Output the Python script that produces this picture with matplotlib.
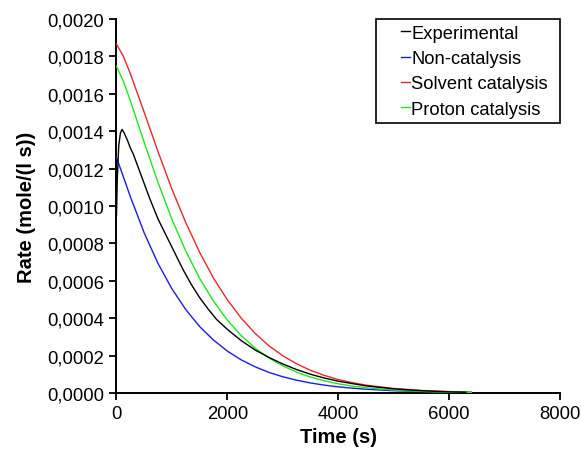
import matplotlib
matplotlib.use("Agg")
import matplotlib.pyplot as plt
from matplotlib.legend_handler import HandlerLine2D
from matplotlib.lines import Line2D
from matplotlib.ticker import FuncFormatter, MultipleLocator

plt.rcParams['font.family'] = ['Liberation Sans', 'DejaVu Sans']

# ---- data ----
t_exp = [0, 15, 40, 70, 100, 140, 200, 250, 300, 400, 500, 600, 750, 900, 1050, 1200,
         1350, 1500, 1650, 1800, 2000, 2250, 2500, 2750, 3000, 3250, 3500, 3750,
         4000, 4500, 5000, 5500, 6000, 6300]
r_exp = [0.00095, 0.00115, 0.00132, 0.00139, 0.00141, 0.00139, 0.00135, 0.00131,
         0.00128, 0.00120, 0.00112, 0.00104, 0.00093, 0.00084, 0.00075, 0.00066,
         0.00058, 0.00051, 0.000450, 0.000395, 0.00034, 0.00028, 0.00023, 0.00019,
         0.000155, 0.000125, 0.000100, 0.000080, 0.000063, 0.000038, 0.000022,
         0.000012, 0.000006, 0.000004]

t_mod = [0, 125, 250, 500, 750, 1000, 1250, 1500, 1750, 2000, 2250, 2500, 2750, 3000,
         3250, 3500, 3750, 4000, 4250, 4500, 5000, 5500, 6000, 6400]
r_non = [0.00126, 0.001155, 0.001050, 0.000856, 0.000692, 0.000557, 0.000446, 0.000355,
         0.000283, 0.000224, 0.000177, 0.000140, 0.000110, 0.0000867, 0.0000682,
         0.0000535, 0.0000419, 0.0000327, 0.0000258, 0.0000199, 0.0000121,
         0.0000073, 0.0000044, 0.0000030]
r_solv = [0.001866, 0.001800, 0.001708, 0.001501, 0.001290, 0.001090, 0.000911, 0.000752,
          0.000614, 0.000498, 0.000400, 0.000319, 0.000252, 0.000199, 0.000156,
          0.000121, 0.0000937, 0.0000720, 0.0000552, 0.0000420, 0.0000241,
          0.0000136, 0.0000075, 0.0000045]
r_prot = [0.001747, 0.001667, 0.001563, 0.001340, 0.001125, 0.000929, 0.000759, 0.000613,
          0.000491, 0.000389, 0.000307, 0.000240, 0.000187, 0.000145, 0.000111,
          0.0000851, 0.0000648, 0.0000491, 0.0000371, 0.0000279, 0.0000156,
          0.0000086, 0.0000046, 0.0000030]

labels = ["Experimental", "Non-catalysis", "Solvent catalysis", "Proton catalysis"]
colors = ["#000000", "#1c1ce0", "#e8282a", "#1ee61e"]

# ---- figure ----
fig = plt.figure(figsize=(5.81, 4.56), dpi=100)
ax = fig.add_axes([0.2005, 0.136, 0.7635, 0.820])

ax.plot(t_exp, r_exp, color=colors[0], lw=1.0, label=labels[0], zorder=5)
ax.plot(t_mod, r_non, color=colors[1], lw=1.0, label=labels[1], zorder=3)
ax.plot(t_mod, r_solv, color=colors[2], lw=1.0, label=labels[2], zorder=3)
ax.plot(t_mod, r_prot, color=colors[3], lw=1.0, label=labels[3], zorder=4)

ax.set_xlim(0, 8000)
ax.set_ylim(0, 0.0020)
ax.xaxis.set_major_locator(MultipleLocator(2000))
ax.yaxis.set_major_locator(MultipleLocator(0.0002))
ax.yaxis.set_major_formatter(FuncFormatter(lambda v, p: f"{v:.4f}".replace('.', ',')))

for s in ['top', 'right']:
    ax.spines[s].set_visible(False)
for s in ['left', 'bottom']:
    ax.spines[s].set_linewidth(1.4)
    ax.spines[s].set_color('black')
ax.tick_params(direction='out', length=5, width=1.3, labelsize=13.3, pad=4, colors='black')

ax.set_xlabel("Time (s)", fontsize=14.5, fontweight='bold', labelpad=3)
ax.set_ylabel("Rate (mole/(l s))", fontsize=14.5, fontweight='bold', labelpad=8)


class ShortHandler(HandlerLine2D):
    def create_artists(self, legend, orig_handle, xdescent, ydescent, width, height,
                       fontsize, trans):
        y = (height - ydescent) / 2.0
        line = Line2D([width * 0.70 - xdescent, width - xdescent], [y, y],
                      color=orig_handle.get_color(), lw=1.0)
        line.set_transform(trans)
        return [line]


handles = ax.get_lines()
leg = ax.legend(handles, labels, loc='upper left', bbox_to_anchor=(0.585, 0.0, 0.415, 1.0),
                mode='expand', borderaxespad=0, fontsize=13.2, frameon=True,
                fancybox=False, edgecolor='black', framealpha=1, handlelength=1.53,
                handletextpad=0.1, borderpad=0.3, labelspacing=0.46,
                handler_map={Line2D: ShortHandler()})
leg.get_frame().set_linewidth(1.2)

fig.savefig("out.png", dpi=100)
